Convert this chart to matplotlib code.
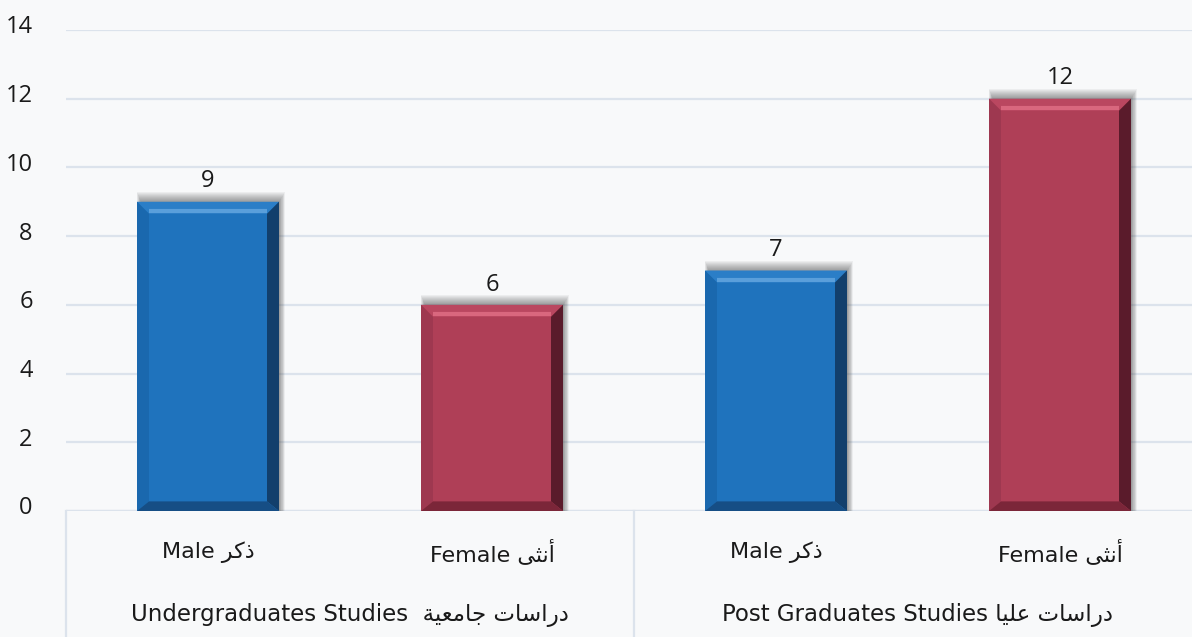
import matplotlib
matplotlib.use("Agg")
import matplotlib.pyplot as plt
from matplotlib.patches import Polygon, Rectangle
from matplotlib.transforms import ScaledTranslation, blended_transform_factory

plt.rcParams['font.family'] = ['Open Sans', 'DejaVu Sans']

# data
gender_en = ['Male', 'Female', 'Male', 'Female']
gender_ar = ['ذكر', 'أنثى', 'ذكر', 'أنثى']
values = [9, 6, 7, 12]
is_female = [False, True, False, True]
group_en = ['Undergraduates Studies ', 'Post Graduates Studies']
group_ar = ['دراسات جامعية', 'دراسات عليا']
y_ticks = [0, 2, 4, 6, 8, 10, 12, 14]

# matplotlib has no Arabic shaping, so map letters to their contextual forms
# (isolated, final, initial, medial)
FORMS = {
    'ا': ('\uFE8D', '\uFE8E', None, None),
    'أ': ('\uFE83', '\uFE84', None, None),
    'ت': ('\uFE95', '\uFE96', '\uFE97', '\uFE98'),
    'ث': ('\uFE99', '\uFE9A', '\uFE9B', '\uFE9C'),
    'ج': ('\uFE9D', '\uFE9E', '\uFE9F', '\uFEA0'),
    'د': ('\uFEA9', '\uFEAA', None, None),
    'ذ': ('\uFEAB', '\uFEAC', None, None),
    'ر': ('\uFEAD', '\uFEAE', None, None),
    'س': ('\uFEB1', '\uFEB2', '\uFEB3', '\uFEB4'),
    'ع': ('\uFEC9', '\uFECA', '\uFECB', '\uFECC'),
    'ك': ('\uFED9', '\uFEDA', '\uFEDB', '\uFEDC'),
    'ل': ('\uFEDD', '\uFEDE', '\uFEDF', '\uFEE0'),
    'م': ('\uFEE1', '\uFEE2', '\uFEE3', '\uFEE4'),
    'ن': ('\uFEE5', '\uFEE6', '\uFEE7', '\uFEE8'),
    'ة': ('\uFE93', '\uFE94', None, None),
    'ى': ('\uFEEF', '\uFEF0', None, None),
    'ي': ('\uFEF1', '\uFEF2', '\uFEF3', '\uFEF4'),
}


def shape_word(word):
    out = []
    for i, ch in enumerate(word):
        f = FORMS[ch]
        prev_joins = i > 0 and FORMS[word[i - 1]][2] is not None
        next_exists = i < len(word) - 1
        can_join_next = f[2] is not None and next_exists
        if prev_joins and can_join_next:
            out.append(f[3])
        elif prev_joins:
            out.append(f[1])
        elif can_join_next:
            out.append(f[2])
        else:
            out.append(f[0])
    return ''.join(out)


def arabic(text):
    shaped = ' '.join(shape_word(w) for w in text.split(' '))
    return shaped[::-1]


BG = '#F8F9FA'
GRID = '#DCE3EC'
palette = {
    False: dict(face='#1F73BD', top='#2B7EC7', hi='#5A9FDB', left='#1A68AE',
                right='#123F6C', bottom='#164E85'),
    True: dict(face='#AF3F57', top='#BA4760', hi='#D9677E', left='#9E3850',
               right='#5A1B2B', bottom='#7B2639'),
}

fig = plt.figure(figsize=(11.92, 6.37), dpi=100, facecolor=BG)
ax = fig.add_axes([66 / 1192, 126 / 637, 1136 / 1192, 481 / 637])
ax.set_facecolor('none')
ax.set_xlim(-0.5, 3.5)
ax.set_ylim(0, 14)
for s in ax.spines.values():
    s.set_visible(False)

ax.set_yticks(y_ticks)
ax.yaxis.grid(True, color=GRID, lw=1.6)
ax.set_axisbelow(True)
ax.tick_params(axis='y', length=0, pad=24, labelsize=17, labelcolor='#1a1a1a')
for lab in ax.get_yticklabels():
    lab.set_family('Open Sans')
    lab.set_transform(lab.get_transform() + ScaledTranslation(0, 4 / 72, fig.dpi_scale_trans))
ax.set_xticks([])

# pixel size in data units
bbox = ax.get_window_extent()
px_x = 4 / bbox.width
px_y = 14 / bbox.height
bev = 12
w = 0.5

x = list(range(len(values)))
for xi, v, fem in zip(x, values, is_female):
    c = palette[fem]
    x0, x1 = xi - w / 2, xi + w / 2
    bx, by = bev * px_x, bev * px_y
    # soft shadow above and right of the bar
    for k in range(10):
        ax.add_patch(Rectangle((x0 + (k * 0.4) * px_x, 0), w + (6 - k) * px_x, v + (10 - k) * px_y,
                               color='#3a3a3a', alpha=0.06, lw=0, zorder=2))
    ax.bar(xi, v, width=w, color=c['face'], zorder=3)
    ax.add_patch(Polygon([(x0, v), (x1, v), (x1 - bx, v - by), (x0 + bx, v - by)],
                         closed=True, color=c['top'], lw=0, zorder=4))
    ax.plot([x0 + bx, x1 - bx], [v - by * 0.75, v - by * 0.75], color=c['hi'], lw=3,
            solid_capstyle='butt', zorder=4)
    ax.add_patch(Polygon([(x0, v), (x0 + bx, v - by), (x0 + bx, by * 0.8), (x0, 0)],
                         closed=True, color=c['left'], lw=0, zorder=4))
    ax.add_patch(Polygon([(x1, v), (x1 - bx, v - by), (x1 - bx, by * 0.8), (x1, 0)],
                         closed=True, color=c['right'], lw=0, zorder=4))
    ax.add_patch(Polygon([(x0, 0), (x1, 0), (x1 - bx, by * 0.8), (x0 + bx, by * 0.8)],
                         closed=True, color=c['bottom'], lw=0, zorder=4))
    ax.annotate(str(v), (xi, v), xytext=(0, 6), textcoords='offset points',
                ha='center', va='bottom', fontsize=17, color='#1a1a1a', zorder=5,
                family='Open Sans')

# category axis with grouped labels
trans = blended_transform_factory(ax.transData, ax.transAxes)
ax.axhline(0, color=GRID, lw=1.6, zorder=1)
for sep in [-0.5, 1.5, 3.5]:
    ax.plot([sep, sep], [0, -0.3], transform=trans, color=GRID, lw=1.6, clip_on=False)
lab_font = ['DejaVu Sans']
for xi, en, ar in zip(x, gender_en, gender_ar):
    ax.text(xi, -41 / bbox.height, en + ' ' + arabic(ar), transform=trans,
            ha='center', va='center', fontsize=16, color='#1a1a1a', family=lab_font)
for gi, (en, ar) in enumerate(zip(group_en, group_ar)):
    ax.text(2 * gi + 0.5, -104 / bbox.height, en + ' ' + arabic(ar), transform=trans,
            ha='center', va='center', fontsize=16.5, color='#1a1a1a', family=lab_font)

fig.savefig('out.png', dpi=100, facecolor=BG)
